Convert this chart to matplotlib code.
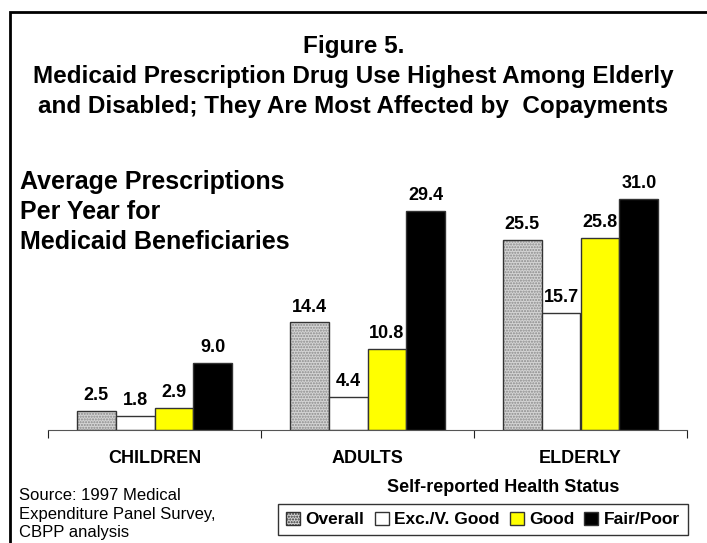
import numpy as np
import matplotlib.pyplot as plt
from matplotlib.patches import Patch, Rectangle

plt.rcParams['font.family'] = ['Liberation Sans', 'DejaVu Sans']

groups = ["CHILDREN", "ADULTS", "ELDERLY"]
series = ["Overall", "Exc./V. Good", "Good", "Fair/Poor"]
overall = [2.5, 14.4, 25.5]
exc_good = [1.8, 4.4, 15.7]
good = [2.9, 10.8, 25.8]
fair_poor = [9.0, 29.4, 31.0]

values = [overall, exc_good, good, fair_poor]
faces = ["#d4d4d4", "white", "#ffff00", "black"]

fig = plt.figure(figsize=(7.07, 5.43), dpi=100)
W, H = 707, 543


def fx(px):
    return px / W


def fy(py):
    return 1 - py / H


# outer frame, runs off the right and bottom edges
fig.patches.append(Rectangle((fx(10), -0.1), 1.2, fy(12) + 0.1, transform=fig.transFigure,
                             fill=False, edgecolor="black", linewidth=2, zorder=0))

ax = fig.add_axes([fx(48), fy(429.5), fx(687) - fx(48), 32 * 7.44 / H])
ax.set_xlim(-0.5, 2.5)
ax.set_ylim(0, 32)

x = np.arange(len(groups))
w = 0.183
offsets = (np.arange(4) - 1.5) * w

for i, vals in enumerate(values):
    xs = x + offsets[i]
    if i == 0:
        ax.bar(xs, vals, w, color=faces[i], edgecolor="#8a8a8a", hatch="......", linewidth=0)
        ax.bar(xs, vals, w, fill=False, edgecolor="#333333", linewidth=1)
    else:
        ax.bar(xs, vals, w, color=faces[i], edgecolor="#333333", linewidth=1)
    for xx, v in zip(xs, vals):
        ax.text(xx, v + 0.9, f"{v:.1f}", ha="center", va="bottom",
                fontsize=13, fontweight="bold")

for s in ["top", "right", "left"]:
    ax.spines[s].set_visible(False)
ax.spines["bottom"].set_color("#555555")
ax.set_yticks([])
ax.set_xticks([-0.5, 0.5, 1.5, 2.5])
ax.set_xticklabels([])
ax.tick_params(axis="x", length=6, direction="out", color="#222222")
for xx, g in zip(x, groups):
    ax.text(xx, -0.12, g, transform=ax.get_xaxis_transform(), ha="center", va="center",
            fontsize=13, fontweight="bold")

fig.text(0.5, fy(47), "Figure 5.", ha="center", va="center", fontsize=17.5, fontweight="bold")
fig.text(0.5, fy(77), "Medicaid Prescription Drug Use Highest Among Elderly",
         ha="center", va="center", fontsize=17.5, fontweight="bold")
fig.text(0.5, fy(107), "and Disabled; They Are Most Affected by  Copayments",
         ha="center", va="center", fontsize=17.5, fontweight="bold")

fig.text(fx(20), fy(212), "Average Prescriptions\nPer Year for\nMedicaid Beneficiaries",
         ha="left", va="center", fontsize=18, fontweight="bold", linespacing=1.3)

fig.text(fx(503), fy(488), "Self-reported Health Status", ha="center", va="center",
         fontsize=13, fontweight="bold")

fig.text(fx(19), fy(514), "Source: 1997 Medical\nExpenditure Panel Survey,\nCBPP analysis",
         ha="left", va="center", fontsize=12, linespacing=1.3)

handles = [
    Patch(facecolor=faces[0], edgecolor="#333333", hatch="......"),
    Patch(facecolor=faces[1], edgecolor="#333333"),
    Patch(facecolor=faces[2], edgecolor="#333333"),
    Patch(facecolor=faces[3], edgecolor="#333333"),
]
leg = fig.legend(handles, series, loc="center", bbox_to_anchor=(fx(483), fy(519.5)), ncol=4,
                 prop={"weight": "bold", "size": 12.5}, frameon=True, fancybox=False,
                 handlelength=0.8, handleheight=0.8, handletextpad=0.3, columnspacing=0.6,
                 borderpad=0.45, borderaxespad=0, edgecolor="black")
leg.get_frame().set_linewidth(1)

fig.savefig("out.png", dpi=100)
